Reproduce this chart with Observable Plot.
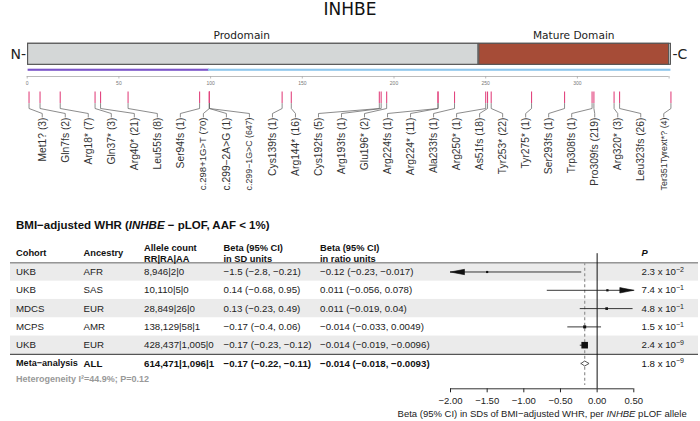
<!DOCTYPE html>
<html><head><meta charset="utf-8">
<script src="https://cdn.jsdelivr.net/npm/d3@7"></script>
<script src="https://cdn.jsdelivr.net/npm/@observablehq/plot@0.6"></script>
<style>
html,body{margin:0;padding:0;background:#fff;}
#root{position:relative;width:700px;height:421px;overflow:hidden;background:#fff;font-family:"Liberation Sans",Arial,sans-serif;}
#root svg{display:block;}
</style></head><body><div id="root"></div>
<script>
// ================= DATA =================
const proteinName = "INHBE";
const proteinLength = 350;
const domainNames = ["Prodomain", "Mature Domain"];
const domainStart = [1, 247];
const domainEnd = [246, 350];
const domainLabelAt = [117, 298];
const exonNames = ["Exon 1", "Exon 2"];
const exonStart = [1, 99.33];
const exonEnd = [99.33, 351];
const proteinTicks = [0, 50, 100, 150, 200, 250, 300];

const variantLabels = ["Met1? (3)", "Gln7fs (2)", "Arg18* (7)", "Gln37* (3)", "Arg40* (21)", "Leu55fs (8)",
  "Ser94fs (1)", "c.298+1G>T (70)", "c.299\u22122A>G (1)", "c.299\u22121G>C (647)", "Cys139fs (1)", "Arg144* (16)",
  "Cys192fs (5)", "Arg193fs (1)", "Glu196* (2)", "Arg224fs (1)", "Arg224* (11)", "Ala233fs (1)", "Arg250* (1)",
  "As51fs (18)", "Tyr253* (22)", "Tyr275* (1)", "Ser293fs (1)", "Trp308fs (1)", "Pro309fs (219)", "Arg320* (3)",
  "Leu323fs (26)", "Ter351Tyrext*? (4)"];
const variantPos = [1, 7, 18, 37, 40, 55, 94, 99.33, 99.33, 99.33, 139, 144, 192, 193, 196, 224, 224, 233, 250,
  251, 253, 275, 293, 308, 309, 320, 323, 351];

const forestTitle = ["BMI\u2212adjusted WHR (", "INHBE", " \u2212 pLOF, AAF < 1%)"];
const cohorts = ["UKB", "UKB", "MDCS", "MCPS", "UKB"];
const ancestries = ["AFR", "SAS", "EUR", "AMR", "EUR"];
const countRR = [8946, 10110, 28849, 138129, 428437];
const countRA = [2, 5, 26, 58, 1005];
const countAA = [0, 0, 0, 1, 0];
const betaSD = [-1.5, 0.14, 0.13, -0.17, -0.17];
const lowSD = [-2.8, -0.68, -0.23, -0.4, -0.23];
const highSD = [-0.21, 0.95, 0.49, 0.06, -0.12];
const betaRatio = [-0.12, 0.011, 0.011, -0.014, -0.014];
const lowRatio = [-0.23, -0.056, -0.019, -0.033, -0.019];
const highRatio = [-0.017, 0.078, 0.04, 0.0049, -0.0096];
const pMantissa = [2.3, 7.4, 4.8, 1.5, 2.4];
const pExponent = [-2, -1, -1, -1, -9];

const metaName = "Meta\u2212analysis";
const metaAncestry = "ALL";
const metaCounts = [614471, 1096, 1];
const metaSD = [-0.17, -0.22, -0.11];
const metaRatio = [-0.014, -0.018, -0.0093];
const metaP = [1.8, -9];
const heterogeneityText = "Heterogeneity I\u00b2=44.9%; P=0.12";

const betaTicks = [-2, -1.5, -1, -0.5, 0, 0.5];
const betaDomain = [-2, 0.5];
const axisTitle = "Beta (95% CI) in SDs of BMI\u2212adjusted WHR, per INHBE pLOF allele";

// ================= HELPERS =================
const root = document.getElementById("root");
const SVGNS = "http://www.w3.org/2000/svg";
function place(el, top, left = 0) {
  el.style.position = "absolute"; el.style.top = top + "px"; el.style.left = left + "px";
  root.appendChild(el);
}
const num = v => String(v).replace("-", "\u2212");
const ci = (b, l, h) => `${num(b)} (${num(l)}, ${num(h)})`;
const fmtCount = (a, b, c) => [a, b, c].map(d3.format(",")).join("|");
const pStr = (m, e) => `${m} x 10^${num(e)}`;

// ================= PROTEIN PLOT =================
const domains = domainNames.map((name, i) => ({name, start: domainStart[i], end: domainEnd[i], at: domainLabelAt[i]}));
const exons = exonNames.map((name, i) => ({name, start: exonStart[i], end: exonEnd[i]}));
const variants = variantLabels.map((label, i) => ({label, pos: variantPos[i], i}));
const labelX = d3.scaleLinear([0, variants.length - 1], [8.2, 347.1]);
const ctx = document.createElement("canvas").getContext("2d");
ctx.font = "10.3px 'Liberation Sans'";
variants.forEach(v => {
  v.lx = labelX(v.i);
  const w = ctx.measureText(v.label).width;
  v.fs = Math.min(10.3, 10.3 * 73 / w);
});
// track layout (vertical, px)
const T = {labelY: 35, barTop: 43.3, barBot: 64.3, exonTop: 68.7, exonBot: 70.8, axisY: 76, tickEnd: 78.5,
  tickLabelY: 82.5, varTop: 91.5, varBot: 103, c1: 108, c2: 113, c3: 116.5, textY: 117};
const conn = variants.flatMap(v => [
  {i: v.i, x: v.pos, y: T.varBot}, {i: v.i, x: v.pos, y: T.c1},
  {i: v.i, x: v.lx, y: T.c2}, {i: v.i, x: v.lx, y: T.c3}]);
const domainFill = {"Prodomain": "#d4d7d7", "Mature Domain": "#a64c37"};
const exonFill = {"Exon 1": "#7b55c9", "Exon 2": "#8ec6ec"};

const protein = Plot.plot({
  width: 700, height: 215, margin: 0,
  x: {domain: [0, proteinLength], range: [26.7, 668.6], axis: null},
  y: {domain: [0, 215], range: [0, 215], axis: null},
  style: {background: "transparent", fontFamily: "'Liberation Sans', Arial, sans-serif", fontSize: "10px"},
  marks: [
    Plot.rect([proteinLength], {x1: 0.5, x2: d => d + 1, y1: T.barTop, y2: T.barBot, fill: "#d4d7d7", stroke: "#555", strokeWidth: 1.1}),
    Plot.rect(domains, {x1: d => d.start - 0.5, x2: d => d.end, y1: T.barTop, y2: T.barBot, fill: d => domainFill[d.name], stroke: "#555", strokeWidth: 1.1}),
    Plot.text(domains, {x: "at", y: T.labelY, text: "name", fontFamily: "'DejaVu Sans'", fontSize: 10.6, fill: "#222"}),
    Plot.text(["N-"], {x: 0.5, y: (T.barTop + T.barBot) / 2, text: d => d, textAnchor: "end", dx: -2, fontFamily: "'DejaVu Sans'", fontSize: 14, fill: "#222"}),
    Plot.text(["-C"], {x: proteinLength + 1, y: (T.barTop + T.barBot) / 2, text: d => d, textAnchor: "start", dx: 1.5, fontFamily: "'DejaVu Sans'", fontSize: 14, fill: "#222"}),
    Plot.rect(exons, {x1: d => d.start - 0.5, x2: "end", y1: T.exonTop, y2: T.exonBot, fill: d => exonFill[d.name]}),
    Plot.ruleY([T.axisY], {x1: 0, x2: proteinLength, stroke: "#aaa", strokeWidth: 0.8}),
    Plot.ruleX([...proteinTicks, proteinLength], {x: d => d, y1: T.axisY, y2: T.tickEnd, stroke: "#aaa", strokeWidth: 0.8}),
    Plot.text(proteinTicks, {x: d => d, y: T.tickLabelY, text: d => d, fontSize: 5, fill: "#777"}),
    Plot.ruleX(variants, {x: "pos", y1: T.varTop, y2: T.varBot, stroke: "#e2457f", strokeWidth: 1.1}),
    Plot.line(conn, {x: "x", y: "y", z: "i", stroke: "#666", strokeWidth: 0.75}),
    Plot.text(variants, {x: "lx", y: T.textY, text: "label", rotate: -90, textAnchor: "end", fontSize: d => d.fs, fill: "#333"})
  ]
});
place(protein, 0);

const title = document.createElement("div");
title.textContent = proteinName;
Object.assign(title.style, {width: "700px", textAlign: "center", font: "17px 'DejaVu Sans'", lineHeight: "20px", color: "#111"});
place(title, -1.2);

// ================= FOREST TITLE =================
const ft = document.createElement("div");
ft.innerHTML = `${forestTitle[0]}<i>${forestTitle[1]}</i>${forestTitle[2].replace("<", "&lt;")}`;
Object.assign(ft.style, {font: "bold 11.5px 'Liberation Sans', Arial, sans-serif", lineHeight: "16px", color: "#111", whiteSpace: "nowrap"});
place(ft, 217, 16);

// ================= FOREST TABLE + PLOT =================
const rows = cohorts.map((c, i) => ({
  idx: i + 1, cohort: c, ancestry: ancestries[i],
  count: fmtCount(countRR[i], countRA[i], countAA[i]),
  beta: betaSD[i], lo: lowSD[i], hi: highSD[i],
  sd: ci(betaSD[i], lowSD[i], highSD[i]),
  ratio: ci(betaRatio[i], lowRatio[i], highRatio[i]),
  p: pStr(pMantissa[i], pExponent[i]),
  w: 1 / Math.pow((highSD[i] - lowSD[i]) / 3.92, 2)
}));
const metaRow = {
  idx: rows.length + 1, cohort: metaName, ancestry: metaAncestry,
  count: fmtCount(...metaCounts), beta: metaSD[0], lo: metaSD[1], hi: metaSD[2],
  sd: ci(...metaSD), ratio: ci(...metaRatio), p: pStr(...metaP)
};
const axisIdx = 7.383;   // layout: row-units down to the axis line
const pxPerUnit = (633.3 - 450) / (betaDomain[1] - betaDomain[0]);
const rowPx = 18.3;
const arrowLen = 14 / pxPerUnit, arrowHalf = 2.7 / rowPx, diaHalf = 2.5 / rowPx;
const arrows = [];
rows.forEach(r => {
  const tri = (tip, dir) => {
    const base = tip + dir * arrowLen, id = r.idx + ":" + tip;
    arrows.push({id, x: tip, y: r.idx}, {id, x: base, y: r.idx - arrowHalf}, {id, x: base, y: r.idx + arrowHalf}, {id, x: tip, y: r.idx});
  };
  if (r.lo < betaDomain[0]) tri(betaDomain[0], 1);
  if (r.hi > betaDomain[1]) tri(betaDomain[1], -1);
});
const diamond = [[metaRow.lo, 0], [metaRow.beta, -diaHalf], [metaRow.hi, 0], [metaRow.beta, diaHalf], [metaRow.lo, 0]]
  .map(([x, dy]) => ({x, y: metaRow.idx + dy}));

const colX = {cohort: 15.5, ancestry: 83, count: 143.5, sd: 223, ratio: 319.5, p: 641};
const hdr = {frameAnchor: "left", textAnchor: "start", fontWeight: "bold", fontSize: 9.3, fill: "#111", lineHeight: 1.25, y: 0, dy: -1};
const headers = [["cohort", "Cohort"], ["ancestry", "Ancestry"], ["count", "Allele count\nRR|RA|AA"],
  ["sd", "Beta (95% CI)\nin SD units"], ["ratio", "Beta (95% CI)\nin ratio units"]];
const cols = ["cohort", "ancestry", "count", "sd", "ratio", "p"];

const forest = Plot.plot({
  width: 700, height: 186, marginLeft: 0, marginRight: 0, marginTop: 18.2, marginBottom: 32.7,
  x: {domain: betaDomain, range: [450, 633.3], ticks: betaTicks, tickFormat: d3.format(".2f"), tickSize: 4, tickPadding: 4.5, label: null},
  y: {domain: [0, axisIdx], reverse: true, axis: null},
  r: {type: "sqrt", domain: [0, d3.max(rows, d => d.w)], range: [1.1, 3.7]},
  style: {background: "transparent", fontFamily: "'Liberation Sans', Arial, sans-serif", fontSize: "9.5px", color: "#222"},
  marks: [
    Plot.rect(rows.filter(r => r.idx % 2 === 1), {y1: d => d.idx - 0.5, y2: d => d.idx + 0.5, fill: "#ebebeb", insetLeft: 10, insetRight: 2}),
    Plot.ruleY([0.5], {stroke: "#666", strokeWidth: 1, insetLeft: 10, insetRight: 2}),
    Plot.ruleY([rows.length + 0.5], {stroke: "#555", strokeWidth: 1.4, insetLeft: 10, insetRight: 2}),
    ...headers.map(([k, s]) => Plot.text([s], {...hdr, dx: colX[k], text: d => d})),
    Plot.text(["P"], {...hdr, dx: colX.p, fontStyle: "italic", text: d => d}),
    ...cols.flatMap(k => [
      Plot.text(rows, {frameAnchor: "left", dx: colX[k], y: "idx", text: k, textAnchor: "start", fontSize: 9.7, fill: "#222"}),
      Plot.text([metaRow], {frameAnchor: "left", dx: colX[k], y: "idx", text: k, textAnchor: "start",
        fontSize: k === "cohort" ? 9.1 : 9.7, fill: "#111", fontWeight: k === "p" ? "normal" : "bold"})
    ]),
    Plot.text([heterogeneityText], {frameAnchor: "left", dx: colX.cohort, y: 6.874, text: d => d, textAnchor: "start", fontSize: 9, fontWeight: "bold", fill: "#999"}),
    Plot.ruleX([metaRow.beta], {y1: 0.5, y2: 7.2, stroke: "#999", strokeWidth: 1.3, strokeDasharray: "3,2.5"}),
    Plot.ruleX([0], {y1: 0, y2: axisIdx, stroke: "#111", strokeWidth: 1}),
    Plot.ruleY(rows, {y: "idx", x1: d => Math.max(d.lo, betaDomain[0]), x2: d => Math.min(d.hi, betaDomain[1]), stroke: "#222", strokeWidth: 0.9}),
    Plot.line(arrows, {x: "x", y: "y", z: "id", fill: "#111", stroke: "#111", strokeWidth: 0.6}),
    Plot.dot(rows, {x: "beta", y: "idx", r: "w", symbol: "square", fill: "#111"}),
    Plot.line(diamond, {x: "x", y: "y", fill: "white", stroke: "#444", strokeWidth: 0.9}),
    Plot.ruleY([axisIdx], {x1: betaDomain[0], x2: betaDomain[1], stroke: "#333", strokeWidth: 1}),
    Plot.text([axisTitle], {x: d3.mean(betaDomain), y: 8.78, text: d => d, fontSize: 9.5, fill: "#222"})
  ]
});
// superscripts and italics as tspans
forest.querySelectorAll("text").forEach(t => {
  if (t.children.length) return;
  const s = t.textContent;
  if (s.includes("^")) {
    const [base, exp] = s.split("^");
    t.textContent = "";
    const a = document.createElementNS(SVGNS, "tspan"); a.textContent = base; t.appendChild(a);
    const b = document.createElementNS(SVGNS, "tspan"); b.textContent = exp;
    b.setAttribute("dy", "-0.45em"); b.setAttribute("font-size", "7px"); t.appendChild(b);
  } else if (s.includes("INHBE")) {
    const parts = s.split("INHBE");
    t.textContent = "";
    parts.forEach((p, i) => {
      if (i > 0) { const it = document.createElementNS(SVGNS, "tspan"); it.textContent = "INHBE"; it.setAttribute("font-style", "italic"); t.appendChild(it); }
      const n = document.createElementNS(SVGNS, "tspan"); n.textContent = p; t.appendChild(n);
    });
  }
});
place(forest, 235);
</script></body></html>
